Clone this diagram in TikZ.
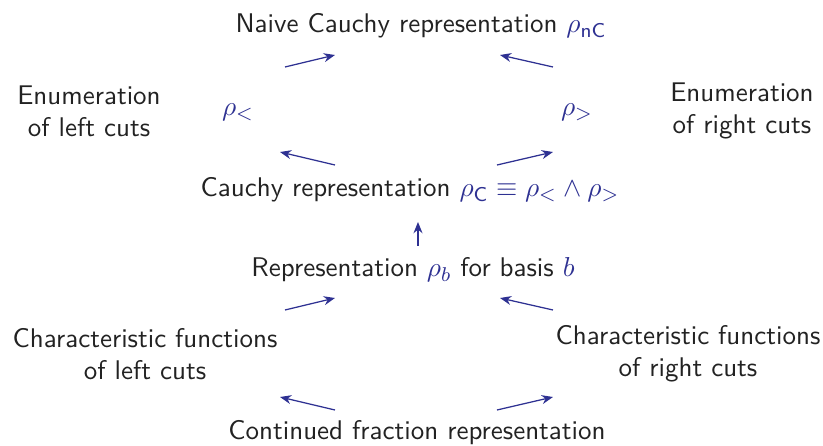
\documentclass[tikz,border=0pt]{standalone}
\usetikzlibrary{arrows.meta}
\definecolor{txt}{HTML}{222222}
\definecolor{blu}{HTML}{2E3192}
\begin{document}
\begin{tikzpicture}[x=0.4pt,y=-0.4pt,
  lbl/.style={text=txt,font=\fontsize{10.8}{12.8}\selectfont\sffamily,inner sep=0pt,align=center},
  mth/.style={text=blu,font=\fontsize{10.8}{12.8}\selectfont,inner sep=0pt},
  arr/.style={draw=blu,line width=0.5pt,-{Stealth[length=4.5pt,width=3.6pt]}}]
\useasboundingbox (0,0) rectangle (823,446);
\node[lbl] (top) at (421,26) {Naive Cauchy representation \textcolor{blu}{$\rho_{\mathsf{nC}}$}};
\node[mth] (rl) at (238,112) {$\rho_<$};
\node[mth] (rr) at (577,112) {$\rho_>$};
\node[lbl] (el) at (89,111) {Enumeration\\of left cuts};
\node[lbl] (er) at (742,111) {Enumeration\\of right cuts};
\node[lbl] (ca) at (410,190) {Cauchy representation \textcolor{blu}{$\rho_{\mathsf{C}}\equiv\rho_<\wedge\rho_>$}};
\node[lbl] (rep) at (413,270) {Representation \textcolor{blu}{$\rho_b$} for basis \textcolor{blu}{$b$}};
\node[lbl] (cl) at (145,354) {Characteristic functions\\of left cuts};
\node[lbl] (cr) at (688,354) {Characteristic functions\\of right cuts};
\node[lbl] (cf) at (417,433) {Continued fraction representation};
\coordinate (a1s) at (285,67); \coordinate (a1e) at (335,55);
\coordinate (a2s) at (553,67); \coordinate (a2e) at (500,55);
\coordinate (a3s) at (335,165); \coordinate (a3e) at (280,152);
\coordinate (a4s) at (497,165); \coordinate (a4e) at (553,152);
\coordinate (a5s) at (418,246); \coordinate (a5e) at (418,222);
\coordinate (a6s) at (285,310); \coordinate (a6e) at (335,298);
\coordinate (a7s) at (553,310); \coordinate (a7e) at (500,298);
\coordinate (a8s) at (335,410); \coordinate (a8e) at (280,397);
\coordinate (a9s) at (497,410); \coordinate (a9e) at (553,397);
\foreach \i in {1,...,9} {\draw[arr] (a\i s) -- (a\i e);}
\end{tikzpicture}
\end{document}
